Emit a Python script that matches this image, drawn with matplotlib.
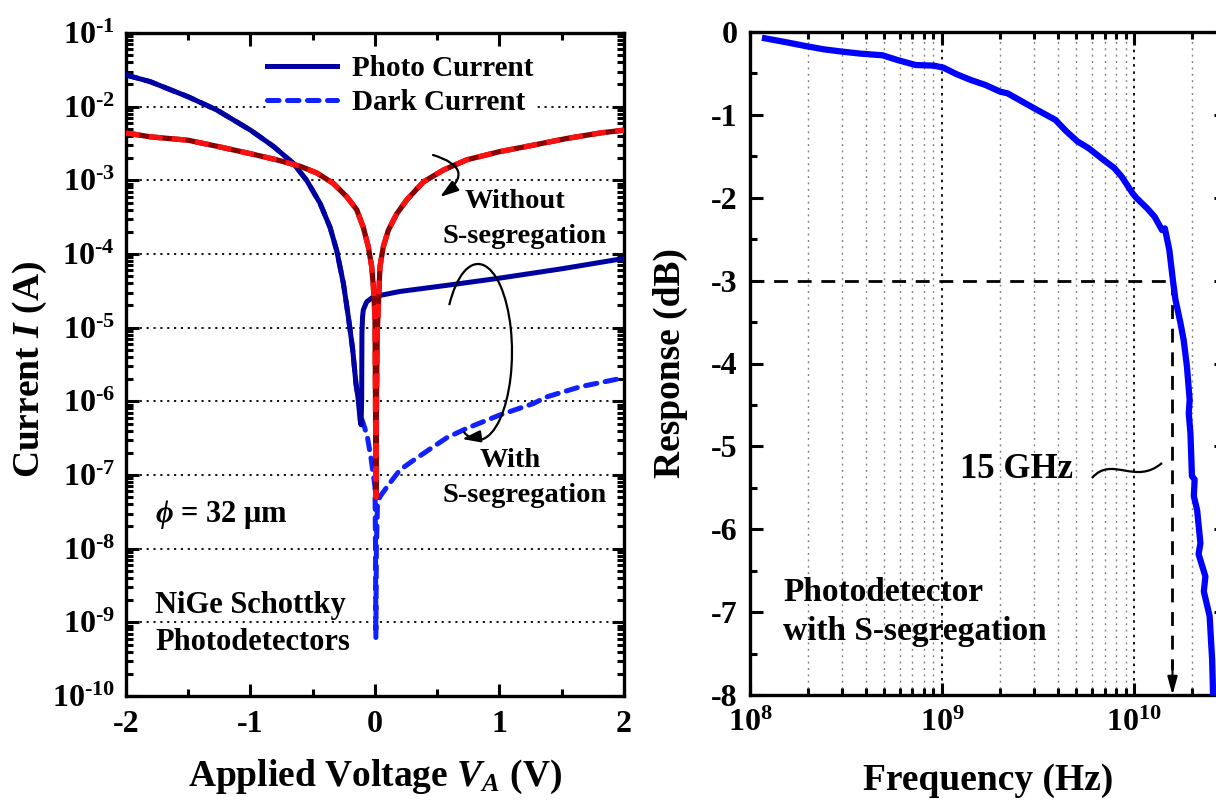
import numpy as np
import matplotlib
matplotlib.use('Agg')
import matplotlib.pyplot as plt
from matplotlib.patches import Arc, FancyArrowPatch, PathPatch
from matplotlib.path import Path
from matplotlib.ticker import FixedLocator, FuncFormatter, LogLocator, MultipleLocator, NullFormatter

plt.rcParams['font.family'] = ['Liberation Serif', 'DejaVu Serif']
plt.rcParams['font.weight'] = 'bold'
plt.rcParams['mathtext.fontset'] = 'custom'
plt.rcParams['mathtext.rm'] = 'Liberation Serif:bold'
plt.rcParams['mathtext.it'] = 'Liberation Serif:italic:bold'
plt.rcParams['mathtext.bf'] = 'Liberation Serif:bold'
plt.rcParams['axes.unicode_minus'] = False

W, H = 1216, 801

# --- left panel: I-V curves (A) ---
# with S-segregation, photo current
v_photo_s = [-2.0, -1.807, -1.5, -1.27, -1.0, -0.817, -0.656, -0.549, -0.442, -0.361,
             -0.308, -0.254, -0.214, -0.179, -0.153, -0.134, -0.12, -0.112, -0.107, -0.105,
             -0.1, -0.094, -0.067, -0.013, 0.2, 0.6, 1.0, 1.5, 2.0]
i_photo_s = [2.69e-2, 2.19e-2, 1.36e-2, 9.0e-3, 4.8e-3, 2.9e-3, 1.7e-3, 1.0e-3, 4.9e-4, 2.3e-4,
             1.12e-4, 4.0e-5, 1.4e-5, 5.0e-6, 1.74e-6, 1.05e-6, 5.6e-7, 4.8e-7, 1.05e-6, 8.3e-6,
             1.4e-5, 1.74e-5, 2.24e-5, 2.63e-5, 3.1e-5, 3.8e-5, 4.7e-5, 6.3e-5, 8.7e-5]
# with S-segregation, dark current
v_dark_s = [-2.0, -1.807, -1.5, -1.27, -1.0, -0.817, -0.656, -0.549, -0.442, -0.361,
            -0.308, -0.254, -0.214, -0.179, -0.153, -0.134, -0.11, -0.085, -0.06, -0.03,
            0.0, 0.004, 0.007, 0.011, 0.02, 0.04, 0.12, 0.2, 0.308, 0.415, 0.576, 0.737,
            1.0, 1.27, 1.38, 1.65, 1.97, 2.0]
i_dark_s = [2.69e-2, 2.19e-2, 1.36e-2, 9.0e-3, 4.8e-3, 2.9e-3, 1.7e-3, 1.0e-3, 4.9e-4, 2.3e-4,
            1.12e-4, 4.0e-5, 1.4e-5, 5.0e-6, 1.74e-6, 1.05e-6, 6.0e-7, 4.5e-7, 3.2e-7, 1.6e-7,
            6.9e-8, 1e-8, 6.2e-10, 1e-8, 4e-8, 5.1e-8, 7.8e-8, 1.17e-7, 1.58e-7, 2.1e-7,
            3.2e-7, 4.3e-7, 6.5e-7, 9.3e-7, 1.15e-6, 1.58e-6, 2.04e-6, 2.1e-6]
# without S-segregation (photo and dark overlap)
v_nos = [-2.0, -1.807, -1.5, -1.27, -1.0, -0.79, -0.6, -0.468, -0.335, -0.227, -0.147,
         -0.094, -0.054, -0.027, -0.013, 0.0, 0.004, 0.008, 0.012, 0.018, 0.04, 0.067,
         0.107, 0.174, 0.254, 0.388, 0.549, 0.737, 1.0, 1.27, 1.54, 1.81, 2.0]
i_nos = [4.4e-3, 3.9e-3, 3.5e-3, 2.9e-3, 2.3e-3, 1.9e-3, 1.55e-3, 1.26e-3, 9.1e-4, 6.0e-4,
         4.0e-4, 2.3e-4, 1.26e-4, 6.8e-5, 3.6e-5, 1.4e-5, 1.0e-6, 5e-8, 1e-6, 8.3e-6,
         6.8e-5, 1.26e-4, 2.1e-4, 3.5e-4, 5.4e-4, 9.5e-4, 1.38e-3, 1.9e-3, 2.45e-3,
         3.0e-3, 3.7e-3, 4.4e-3, 4.8e-3]

# --- right panel: frequency response ---
freq = [1.197e8, 1.556e8, 1.941e8, 2.421e8, 3.02e8, 3.758e8, 4.898e8, 5.848e8, 7.278e8,
        9.078e8, 1.014e9, 1.183e9, 1.409e9, 1.679e9, 2.004e9, 2.188e9, 2.612e9, 3.119e9,
        3.882e9, 4.436e9, 5.058e9, 5.768e9, 6.887e9, 7.852e9, 8.59e9, 9.795e9, 1.023e10,
        1.169e10, 1.276e10, 1.393e10, 1.442e10, 1.521e10, 1.589e10, 1.637e10, 1.738e10,
        1.807e10, 1.879e10, 1.941e10, 1.92e10, 1.959e10, 1.995e10, 2.06e10, 2.04e10,
        2.123e10, 2.208e10, 2.16e10, 2.344e10, 2.30e10, 2.466e10, 2.541e10, 2.57e10, 2.6e10]
resp = [-0.076, -0.125, -0.169, -0.209, -0.237, -0.261, -0.281, -0.338, -0.398,
        -0.406, -0.43, -0.507, -0.579, -0.639, -0.72, -0.74, -0.84, -0.94,
        -1.06, -1.20, -1.32, -1.40, -1.54, -1.64, -1.745, -1.946, -2.0,
        -2.13, -2.23, -2.39, -2.37, -2.63, -3.0, -3.23, -3.51,
        -3.72, -4.04, -4.44, -4.6, -4.84, -5.36, -5.4, -5.6,
        -5.77, -6.17, -6.3, -6.57, -6.75, -7.05, -7.58, -8.0, -8.2]
f_3db = 1.58e10


def fxy(x, y):
    """reference pixel position -> figure fraction"""
    return x / W, 1 - y / H


def pow10(v, pos):
    e = int(round(np.log10(v)))
    if e < 0:
        return r'$\mathbf{10^{\text{-}%d}}$' % -e
    return r'$\mathbf{10^{%d}}$' % e


fig = plt.figure(figsize=(W / 100, H / 100), dpi=100)
ax1 = fig.add_axes([126 / W, 1 - 696 / H, 498 / W, 663 / H])
ax2 = fig.add_axes([750 / W, 1 - 695 / H, 476 / W, 663 / H])

# left panel
h_photo, = ax1.plot(v_photo_s, i_photo_s, color='#0000A0', lw=3.6, zorder=4,
                    solid_joinstyle='round', label='Photo Current')
h_dark, = ax1.plot(v_dark_s, i_dark_s, color='#1020FF', lw=3.6, dashes=(2.3, 1.7),
                   dash_capstyle='round', zorder=3, label='Dark Current')
ax1.plot(v_nos, i_nos, color='#8B0000', lw=3.8, zorder=5, solid_joinstyle='round')
ax1.plot(v_nos, i_nos, color='#FF1010', lw=3.8, dashes=(2.6, 1.8), zorder=6)

ax1.set_yscale('log')
ax1.set_xlim(-2, 2)
ax1.set_ylim(1e-10, 1e-1)
ax1.xaxis.set_major_locator(FixedLocator([-2, -1, 0, 1, 2]))
ax1.xaxis.set_minor_locator(MultipleLocator(0.5))
ax1.xaxis.set_major_formatter(FuncFormatter(lambda v, p: '%d' % v))
ax1.yaxis.set_major_locator(LogLocator(base=10, numticks=20))
ax1.yaxis.set_minor_locator(LogLocator(base=10, subs=np.arange(2, 10), numticks=20))
ax1.yaxis.set_major_formatter(FuncFormatter(pow10))
ax1.yaxis.set_minor_formatter(NullFormatter())
ax1.yaxis.grid(True, which='major', color='k', lw=1.3, linestyle=(0, (1.2, 2.6)))
ax1.tick_params(which='both', direction='in', top=True, right=True, width=2.2, labelsize=23)
ax1.tick_params(which='major', length=9)
ax1.tick_params(which='minor', length=5)
ax1.tick_params(axis='x', pad=10)
ax1.tick_params(axis='y', pad=8)

leg = ax1.legend(handles=[h_photo, h_dark], loc='upper left', bbox_to_anchor=fxy(267, 55),
                 bbox_transform=fig.transFigure, fontsize=21, handlelength=2.4,
                 handletextpad=0.5, labelspacing=0.25, borderpad=0, borderaxespad=0,
                 frameon=True, facecolor='white', edgecolor='none', framealpha=1)
leg.get_frame().set_linewidth(0)

# right panel
ax2.plot(freq, resp, color='#0000FF', lw=4.5, zorder=3, solid_joinstyle='round')
ax2.plot([1e8, f_3db], [-3, -3], color='k', lw=2, dashes=(5, 3.5), zorder=2)
ax2.plot([f_3db, f_3db], [-3, -7.7], color='k', lw=2, dashes=(5, 3.5), zorder=2)
ax2.annotate('', xy=(f_3db, -8), xytext=(f_3db, -7.6),
             arrowprops=dict(arrowstyle='-|>,head_length=1.1,head_width=0.3',
                             color='k', lw=1.5, shrinkA=0, shrinkB=0))
ax2.set_xscale('log')
ax2.set_xlim(1e8, 3e10)
ax2.set_ylim(-8, 0)
ax2.xaxis.set_major_locator(LogLocator(base=10, numticks=10))
ax2.xaxis.set_minor_locator(LogLocator(base=10, subs=np.arange(2, 10), numticks=20))
ax2.xaxis.set_major_formatter(FuncFormatter(pow10))
ax2.xaxis.set_minor_formatter(NullFormatter())
ax2.yaxis.set_major_locator(MultipleLocator(1))
ax2.yaxis.set_minor_locator(MultipleLocator(0.5))
ax2.yaxis.set_major_formatter(FuncFormatter(lambda v, p: '%d' % v))
ax2.xaxis.grid(True, which='minor', color='0.5', lw=1.0, linestyle=(0, (1.4, 3.2)))
ax2.xaxis.grid(True, which='major', color='k', lw=1.3, linestyle=(0, (1.4, 2.6)))
ax2.tick_params(which='both', direction='in', top=True, right=True, width=2.2, labelsize=23)
ax2.tick_params(which='major', length=9)
ax2.tick_params(which='minor', length=5)
ax2.tick_params(axis='x', pad=10)
ax2.tick_params(axis='y', pad=9)

for ax in (ax1, ax2):
    for s in ax.spines.values():
        s.set_linewidth(2.4)

# axis labels
fig.text(*fxy(30, 369), 'Current $I$ (A)', rotation=90, ha='center', va='center', fontsize=27)
fig.text(*fxy(375, 786), 'Applied Voltage $V_A$ (V)', ha='center', va='baseline', fontsize=27)
fig.text(*fxy(670, 363), 'Response (dB)', rotation=90, ha='center', va='center', fontsize=27)
fig.text(*fxy(988, 790), 'Frequency (Hz)', ha='center', va='baseline', fontsize=27)

# annotations, left panel
fig.text(*fxy(465, 208), 'Without', fontsize=20.5, va='baseline')
fig.text(*fxy(443, 243), 'S-segregation', fontsize=20.5, va='baseline')
fig.text(*fxy(480, 467), 'With', fontsize=20.5, va='baseline')
fig.text(*fxy(442, 502), 'S-segregation', fontsize=20.5, va='baseline')
fig.text(*fxy(155, 522), r'$\phi$ = 32 μm', fontsize=22, va='baseline')
fig.text(*fxy(155, 613), 'NiGe Schottky', fontsize=22, va='baseline')
fig.text(*fxy(155, 650), 'Photodetectors', fontsize=22, va='baseline')

fig.add_artist(FancyArrowPatch(fxy(433, 155), fxy(440, 197), transform=fig.transFigure,
                               connectionstyle='arc3,rad=-1.0',
                               arrowstyle='-|>,head_length=0.55,head_width=0.18',
                               mutation_scale=20, lw=1.6, color='k', shrinkA=0, shrinkB=0))
fig.add_artist(Arc(fxy(478, 352), 68 / W, 176 / H, theta1=-97, theta2=112,
                   transform=fig.transFigure, lw=1.6, color='k'))
fig.add_artist(FancyArrowPatch(fxy(476, 437), fxy(462, 439), transform=fig.transFigure,
                               arrowstyle='-|>,head_length=0.55,head_width=0.18',
                               mutation_scale=20, lw=1.6, color='k', shrinkA=0, shrinkB=0))

# annotations, right panel
fig.text(*fxy(960, 478), '15 GHz', fontsize=25, va='baseline')
fig.text(*fxy(783, 601), 'Photodetector', fontsize=24, va='baseline')
fig.text(*fxy(783, 640), 'with S-segregation', fontsize=24, va='baseline')
squiggle = Path([fxy(1092, 478), fxy(1112, 455), fxy(1135, 486), fxy(1162, 463)],
                [Path.MOVETO, Path.CURVE4, Path.CURVE4, Path.CURVE4])
fig.add_artist(PathPatch(squiggle, transform=fig.transFigure, fill=False, lw=1.6, color='k'))

fig.savefig('out.png', dpi=100)
